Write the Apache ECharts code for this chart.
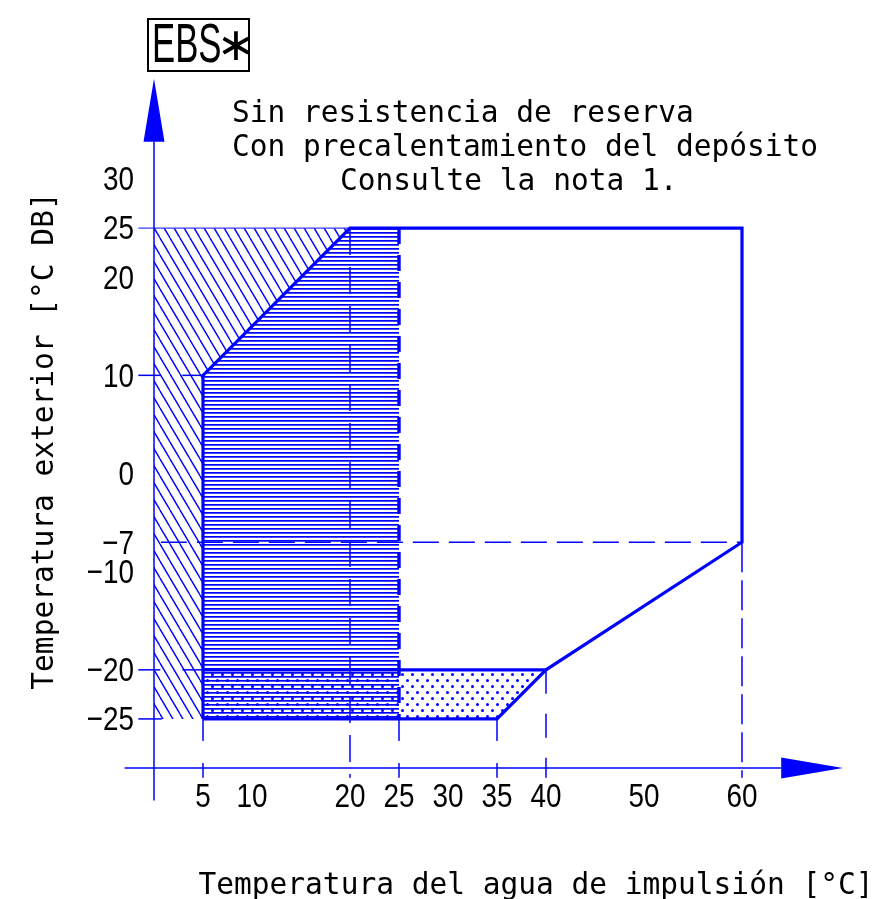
<!DOCTYPE html>
<html>
<head>
<meta charset="utf-8">
<script src="https://cdn.jsdelivr.net/npm/echarts@6/dist/echarts.min.js"></script>
<style>
  html, body { margin: 0; padding: 0; background: #fff; }
  #chart { width: 890px; height: 899px; }
</style>
</head>
<body>
<div id="chart"></div>
<script>
// tick labels
const xLabels = [5, 10, 20, 25, 30, 35, 40, 50, 60];
const yLabels = [30, 25, 20, 10, 0, -7, -10, -20, -25];

// operating zones [water temp, outdoor temp]
const zoneDiag = [[0, -25], [0, 25], [20, 25], [5, 10], [5, -25]];
const zoneHoriz = [[5, -25], [5, 10], [20, 25], [25, 25], [25, -25]];
const zoneDots = [[5, -25], [5, -20], [40, -20], [35, -25]];
const envelope = [[5, -25], [5, 10], [20, 25], [60, 25], [60, -7], [40, -20], [35, -25], [5, -25]];
const splitLine = [[5, -20], [40, -20]];
const heaterLine = [[25, 25], [25, -25]];

// axis lines and arrows (base, tip)
const xAxisLine = [[-3, -30], [64, -30]];
const yAxisLine = [[0, -33.3], [0, 33.8]];
const arrows = [[64, -30, 70.3, -30], [0, 33.8, 0, 40.2]];

const BLUE = '#0000ff';
const SANS = "'Liberation Sans', Arial, sans-serif";
const MONO = "'DejaVu Sans Mono', monospace";
const SQUEEZE = 0.82; // narrow look of the drawing's digits

function makePattern(w, h, draw) {
  const c = document.createElement('canvas');
  c.width = w; c.height = h;
  draw(c.getContext('2d'));
  return { image: c, repeat: 'repeat' };
}

const diagFill = makePattern(10, 17, ctx => {
  ctx.strokeStyle = BLUE; ctx.lineWidth = 1.4;
  [-10, 0, 10].forEach(k => { ctx.beginPath(); ctx.moveTo(k, 0); ctx.lineTo(k + 10, 17); ctx.stroke(); });
});
const horizFill = makePattern(4, 4, ctx => {
  ctx.fillStyle = BLUE; ctx.fillRect(0, 0, 4, 1);
  ctx.fillStyle = '#4c4cff'; ctx.fillRect(0, 1, 4, 1);
});
const dotFill = makePattern(10, 12, ctx => {
  ctx.fillStyle = BLUE;
  [[2.5, 2.5], [7.5, 8.5]].forEach(p => { ctx.beginPath(); ctx.arc(p[0], p[1], 1.5, 0, Math.PI * 2); ctx.fill(); });
});

function zone(points, fill, z) {
  return {
    type: 'custom', z: z, silent: true, data: points,
    renderItem: (params, api) => params.dataIndex ? null : {
      type: 'polygon',
      shape: { points: points.map(p => api.coord(p)) },
      style: { fill: fill, stroke: null }
    }
  };
}

function seg(coords, width, dash, color, z) {
  return {
    type: 'lines', coordinateSystem: 'cartesian2d', polyline: true, clip: false, silent: true, z: z || 3,
    data: [{ coords: coords }],
    lineStyle: { color: color || BLUE, width: width, type: dash || 'solid', opacity: 1 }
  };
}

// tick labels placed through the axes' scales
function tickLabels(values, isX) {
  return {
    type: 'custom', z: 7, silent: true, clip: false,
    data: values.map(v => [v]),
    encode: isX ? { x: 0 } : { y: 0 },
    renderItem: (params, api) => {
      const v = api.value(0);
      const p = isX ? api.coord([v, -30]) : api.coord([0, v]);
      return {
        type: 'text',
        x: isX ? p[0] : p[0] - 20,
        y: isX ? p[1] + 30 : p[1] + 2,
        scaleX: SQUEEZE,
        style: {
          text: String(v).replace('-', '\u2212'),
          fontSize: 34, fontFamily: SANS, fill: '#000',
          align: isX ? 'center' : 'right', verticalAlign: 'middle'
        }
      };
    }
  };
}

const chart = echarts.init(document.getElementById('chart'));
chart.setOption({
  animation: false,
  backgroundColor: '#fff',
  grid: { left: 154, right: 148, top: 179, bottom: 131 },
  xAxis: {
    type: 'value', min: 0, max: 60,
    axisLine: { show: false }, axisTick: { show: false }, splitLine: { show: false }, axisLabel: { show: false }
  },
  yAxis: {
    type: 'value', min: -30, max: 30,
    axisLine: { show: false }, axisTick: { show: false }, splitLine: { show: false }, axisLabel: { show: false }
  },
  graphic: [
    { type: 'rect', shape: { x: 148, y: 19, width: 101, height: 52 },
      style: { fill: 'none', stroke: '#000', lineWidth: 2 } },
    { type: 'text', x: 152, y: 47, scaleX: 0.62,
      style: { text: 'EBS', fontSize: 56, fontFamily: SANS, fill: '#000', verticalAlign: 'middle' } },
    { type: 'text', x: 236, y: 48,
      style: { text: '\u2217', fontSize: 46, fontFamily: "'DejaVu Sans', sans-serif", fill: '#000', align: 'center', verticalAlign: 'middle' } },
    { type: 'text', x: 232, y: 114,
      style: { text: 'Sin resistencia de reserva', fontSize: 29.5, fontFamily: MONO, fill: '#000', verticalAlign: 'middle' } },
    { type: 'text', x: 232, y: 148.5,
      style: { text: 'Con precalentamiento del depósito', fontSize: 29.5, fontFamily: MONO, fill: '#000', verticalAlign: 'middle' } },
    { type: 'text', x: 340, y: 182.5,
      style: { text: 'Consulte la nota 1.', fontSize: 29.5, fontFamily: MONO, fill: '#000', verticalAlign: 'middle' } },
    { type: 'text', x: 45.5, y: 441, rotation: Math.PI / 2,
      style: { text: 'Temperatura exterior [°C DB]', fontSize: 29.5, fontFamily: MONO, fill: '#000', align: 'center', verticalAlign: 'middle' } },
    { type: 'text', x: 536, y: 886,
      style: { text: 'Temperatura del agua de impulsión [°C]', fontSize: 29.5, fontFamily: MONO, fill: '#000', align: 'center', verticalAlign: 'middle' } }
  ],
  series: [
    zone(zoneDiag, diagFill, 1),
    zone(zoneHoriz, horizFill, 1),
    zone(zoneDots, dotFill, 2),
    // dashed guides
    seg([[20, 25], [20, -31]], 1.5, [27, 12]),
    seg([[5, -25], [5, -31]], 1.5, [22, 22]),
    seg([[25, -25], [25, -31]], 1.5, [22, 22]),
    seg([[35, -25], [35, -31]], 1.5, [22, 22]),
    seg([[40, -20], [40, -31]], 1.5, [24, 20]),
    seg([[60, -7], [60, -31]], 1.5, [30, 8]),
    seg([[0.7, -7], [60, -7]], 1.5, [26, 10]),
    seg([[-1.6, 10], [5, 10]], 1.5, [22, 22]),
    seg([[-1.6, -20], [5, -20]], 1.5, [22, 22]),
    seg([[-1.6, -25], [0.8, -25]], 1.5),
    seg([[-1.6, 25], [20, 25]], 1.3, 'solid', '#3c3cff'),
    // boundaries
    seg(envelope, 3.2, 'solid', BLUE, 5),
    seg(splitLine, 3.2, 'solid', BLUE, 5),
    seg(heaterLine, 3.4, [16, 11], BLUE, 5),
    // axes
    seg(xAxisLine, 1.5, 'solid', BLUE, 6),
    seg(yAxisLine, 1.5, 'solid', BLUE, 6),
    {
      type: 'custom', z: 6, silent: true, clip: false, data: arrows,
      renderItem: (params, api) => {
        const b = api.coord([api.value(0), api.value(1)]);
        const t = api.coord([api.value(2), api.value(3)]);
        const dx = t[0] - b[0], dy = t[1] - b[1];
        const len = Math.hypot(dx, dy), hw = 10.5;
        const nx = -dy / len * hw, ny = dx / len * hw;
        return {
          type: 'polygon',
          shape: { points: [[b[0] + nx, b[1] + ny], t, [b[0] - nx, b[1] - ny]] },
          style: { fill: BLUE, stroke: null }
        };
      }
    },
    tickLabels(xLabels, true),
    tickLabels(yLabels, false)
  ]
});
</script>
</body>
</html>
